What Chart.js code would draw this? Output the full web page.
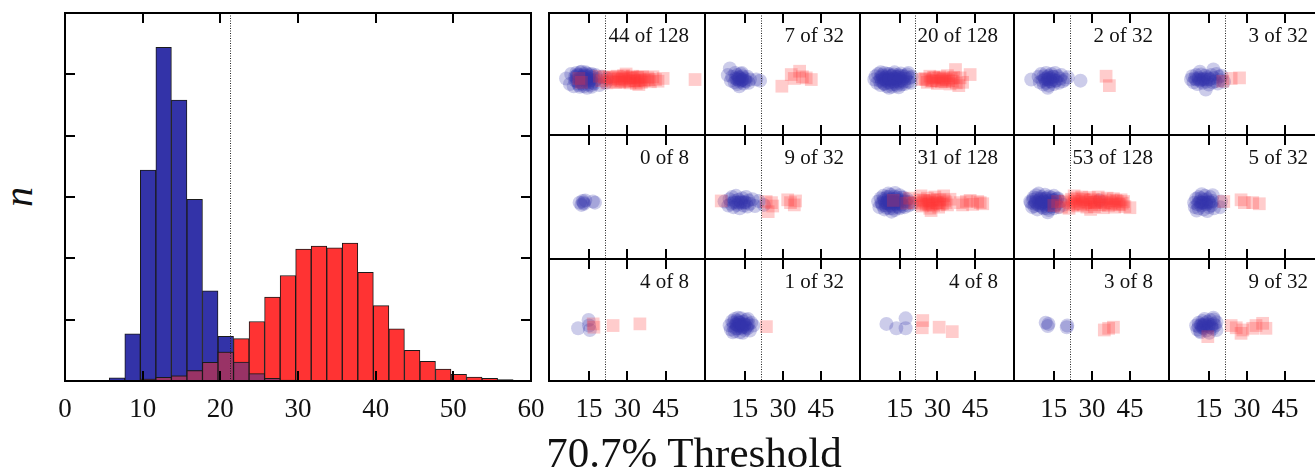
<!DOCTYPE html>
<html lang="en">
<head>
  <meta charset="UTF-8" />
  <title>70.7% Threshold</title>
  <script src="https://cdn.jsdelivr.net/npm/chart.js"></script>
  <style>
    html, body { margin: 0; padding: 0; overflow: hidden; background: #fff; }
    #figure {
      position: relative;
      width: 1315px;
      height: 471px;
      overflow: hidden;
      font-family: "Liberation Serif", "Times New Roman", serif;
      color: #111;
    }
    #figure canvas { position: absolute; }
    .count {
      position: absolute;
      font-size: 21px;
      line-height: 21px;
      white-space: nowrap;
      text-align: right;
    }
    .xlabel {
      position: absolute;
      left: 694px;
      top: 432px;
      font-size: 43px;
      line-height: 42px;
      white-space: nowrap;
      transform: translateX(-50%);
    }
    .ylabel {
      position: absolute;
      left: 19px;
      top: 197px;
      font-size: 40px;
      line-height: 40px;
      font-style: italic;
      transform: translate(-50%, -50%) rotate(-90deg);
    }
  </style>
</head>
<body>
  <div id="figure">
    <canvas id="hist" width="492" height="440" style="left:55px; top:3px; width:492px; height:440px;"></canvas>
    <div class="ylabel">n</div>
    <div class="xlabel">70.7% Threshold</div>
  </div>

  <script>
    // histogram (bin centres, counts)
    const threshold = 21.3;
    const binCenters = [6.7, 8.7, 10.7, 12.7, 14.7, 16.7, 18.7, 20.7, 22.7, 24.7, 26.7, 28.7, 30.7,
                        32.7, 34.7, 36.7, 38.7, 40.7, 42.7, 44.7, 46.7, 48.7, 50.7, 52.7, 54.7, 56.7];
    const blueCounts = [0.5, 7.7, 34.4, 54.4, 45.8, 29.6, 14.7, 7.3, 3.1, 1.2, 0.45, 0.15, 0.05,
                        0, 0, 0, 0, 0, 0, 0, 0, 0, 0, 0, 0, 0];
    const redCounts = [0, 0, 0.3, 0.6, 0.85, 1.7, 3.05, 4.7, 6.9, 9.7, 13.7, 17.2, 21.5,
                       22.0, 21.7, 22.5, 17.7, 12.3, 8.5, 5.0, 3.2, 1.95, 1.1, 0.65, 0.44, 0.22];
    const histTicks = [10, 20, 30, 40, 50];
    const panelTicks = [15, 30, 45];

    // small panels, row by row
    const panelLabels = ['44 of 128', '7 of 32', '20 of 128', '2 of 32', '3 of 32',
                         '0 of 8', '9 of 32', '31 of 128', '53 of 128', '5 of 32',
                         '4 of 8', '1 of 32', '4 of 8', '3 of 8', '9 of 32'];

    const bluePoints = [
      [[6,0.02],[7.5,-0.08],[8,0.1],[9,-0.12],[9.5,0.05],[10,0.12],[10.5,-0.03],[11,0.08],[11,-0.1],[11.5,0.02],
       [12,0.14],[12,-0.06],[12.5,0.04],[13,-0.12],[13,0.09],[13.5,0],[14,-0.04],[14,0.11],[14.5,-0.09],[15,0.06],
       [15.5,-0.02],[16,0.1],[16,-0.13],[16.5,0.03],[17,-0.07],[17.5,0.08],[18,0.01],[19,-0.1],[20,0.05],[21.5,-0.06],
       [22,0.02],[10,-0.02],[12.8,0.06],[14.2,-0.15],[11.6,0.13],
       [9.5,-0.02],[10,0.04],[10.5,0.09],[10.8,-0.07],[11.2,0],[11.8,-0.04],[12.2,0.05],[12.6,-0.09],[13.2,0.02],[13.7,0.07],
       [14,-0.01],[14.4,0.04],[14.8,-0.05],[15.2,0.09],[15.6,0],[16.2,-0.06],[16.6,0.06],[17.2,-0.02],[11.4,-0.13],[13.6,0.13],
       [15.8,-0.1],[12,0],[13,0],[14.6,0.01],[10.2,0.07]],
      [[9.1,0.2],[8.3,0.08],[9.5,-0.02],[10,0.05],[11,-0.05],[11.5,0.02],[12,0.08],[12,-0.08],[12.5,0],[13,0.04],
       [13,-0.04],[13.5,0.1],[14,-0.01],[14,0.06],[14.5,-0.07],[15,0.02],[15.5,-0.03],[16,0.05],[16.5,-0.06],[17,0],
       [12.8,-0.12],[13.8,0.12],[11.2,0.12],[19.5,0],[21,-0.02],
       [12,0],[13,0.02],[14,0],[15,-0.02],[13.5,-0.02],[12.5,0.04]],
      [[5,0],[5.5,0.06],[6,-0.06],[6.5,0.1],[7,-0.02],[7.5,0.04],[7.5,-0.1],[8,0.08],[8,-0.04],[8.5,0.02],
       [9,0.12],[9,-0.08],[9.5,0],[10,0.06],[10,-0.12],[10.5,0.03],[11,-0.05],[11,0.1],[11.5,-0.01],[12,0.07],
       [12,-0.09],[12.5,0.02],[13,0.13],[13,-0.04],[13.5,0.05],[14,-0.11],[14,0.01],[14.5,0.08],[15,-0.06],[15,0.03],
       [15.5,0.11],[16,-0.02],[16.5,0.06],[17,-0.08],[17.5,0.02],[18,0.09],[18.5,-0.04],[19,0.03],[19.5,-0.06],[19.8,0.05],
       [18.5,0.12],[7.5,0.13],[10.8,-0.15],[14.6,-0.14],
       [7.8,0],[8.4,0.06],[8.8,-0.07],[9.3,0.03],[9.7,-0.02],[10.3,0.1],[10.6,-0.06],[11.3,0],[11.7,0.06],[12.3,-0.04],
       [12.7,0.09],[13.3,-0.08],[13.7,0],[14.3,0.05],[14.7,-0.03],[15.3,0.07],[15.7,-0.09],[16.3,0.02],[16.7,-0.04],[17.3,0.06],
       [9,0],[11,0],[13,0.02],[15,-0.01],[12,-0.13]],
      [[6.1,0],[9,0.05],[9.5,-0.05],[10,0.1],[10.5,-0.02],[11,0.06],[11,-0.09],[11.5,0.02],[12,0.12],[12,-0.06],
       [12.5,0],[13,0.07],[13,-0.11],[13.5,0.03],[14,-0.04],[14,0.1],[14.5,0],[15,-0.08],[15,0.05],[15.5,0.12],
       [16,-0.02],[16.5,0.06],[17,-0.06],[17.5,0.02],[18,0.08],[18.5,-0.03],[19.5,0],[20.5,0.04],[12.6,-0.15],[25.5,-0.02],
       [11.5,0],[12.5,0.04],[13.5,-0.03],[14.5,0.05],[15.5,-0.02],[13,0]],
      [[8,0],[8.5,0.06],[9,-0.05],[9.5,0.02],[10,0.08],[10.5,-0.08],[11,0.03],[11.5,-0.02],[12,0.09],[12.5,-0.06],
       [13,0.02],[13.5,0.07],[14,-0.04],[14.5,0.04],[15,-0.09],[15.5,0.01],[16,0.08],[16.5,-0.05],[16.8,0.18],[17,0.03],
       [17.5,-0.03],[18,0.1],[18.5,-0.07],[19,0.05],[19.5,-0.01],[20,0.07],[21,-0.04],[13.8,-0.18],[11.5,0.14],
       [10,0],[11,0],[12,0],[13,0],[14,0],[15,0]],

      [[11.3,0],[12,-0.04],[12.5,0.03],[13,-0.02],[13.5,0.04],[12.8,0],[16.5,0.02],[17.3,0]],
      [[7,0.02],[8.5,-0.05],[9,0.06],[9.5,-0.02],[10,0.1],[10.5,-0.08],[11,0.03],[11.5,0.12],[12,-0.04],[12.5,0.05],
       [13,-0.1],[13.5,0.02],[14,0.08],[14.5,-0.05],[15,0.01],[15.5,0.1],[16,-0.07],[16.5,0.04],[17,-0.02],[18,0.06],
       [19,-0.06],[20.5,0.03],[22.5,-0.04],
       [10.5,0],[11.5,0],[12.5,0],[13.5,0],[14.5,0],[15.5,0]],
      [[6.5,0.02],[7,-0.08],[7.5,0.08],[8,-0.02],[8.5,0.12],[9,-0.12],[9,0.04],[9.5,-0.05],[10,0.1],[10,-0.01],
       [10.5,0.06],[11,-0.1],[11,0.02],[11.5,0.14],[12,-0.06],[12,0.07],[12.5,-0.02],[13,0.11],[13,-0.13],[13.5,0.03],
       [14,-0.07],[14,0.09],[14.5,0],[15,0.13],[15,-0.1],[15.5,0.05],[16,-0.03],[16.5,0.09],[17,-0.08],[17.5,0.02],
       [18,0.06],[18.5,-0.05],[19,0.01],[20,-0.02],[11.8,-0.16],[13.2,0.17],[10.5,0.16],
       [7.8,0],[8.3,-0.05],[8.8,0.07],[9.3,0],[9.8,-0.09],[10.3,0.03],[10.8,0.1],[11.3,-0.04],[11.8,0.05],[12.3,-0.1],
       [12.8,0.01],[13.3,0.07],[13.8,-0.03],[14.3,0.04],[14.8,-0.08],[15.3,0],[15.8,0.09],[16.3,-0.06],[16.8,0.02],[12,0],
       [13,0],[14,0],[10,0],[11,0],[15,0.03]],
      [[5.7,0.02],[6.5,-0.08],[7,0.09],[7.5,-0.02],[8,0.13],[8.5,-0.12],[9,0.04],[9.5,-0.05],[10,0.1],[10,-0.01],
       [10.5,0.06],[11,-0.1],[11,0.02],[11.5,0.14],[12,-0.06],[12,0.07],[12.5,-0.02],[13,0.11],[13,-0.13],[13.5,0.03],
       [14,-0.07],[14,0.09],[14.5,0],[15,0.12],[15,-0.1],[15.5,0.05],[16,-0.03],[16.5,0.08],[17,-0.08],[17.5,0.02],
       [18.7,-0.04],[33,0.04],[9,0.16],[12.6,-0.17],
       [6,0],[6.8,0.05],[7.3,-0.06],[7.8,0.02],[8.3,0.08],[8.8,-0.04],[9.3,0],[9.8,0.07],[10.3,-0.08],[10.8,0.02],
       [11.3,-0.03],[11.8,0.08],[12.3,-0.1],[12.8,0.03],[13.3,-0.05],[13.8,0.06],[14.3,-0.01],[14.8,0.04],[15.3,-0.06],[15.8,0.02],
       [16.3,0.07],[10,0],[12,0],[14,0],[8,0]],
      [[9.2,0],[9.5,-0.08],[10,0.07],[10.5,-0.03],[11,0.1],[11,-0.1],[11.5,0.02],[12,-0.05],[12,0.08],[12.5,0],
       [13,-0.12],[13,0.05],[13.5,0.12],[14,-0.03],[14.5,0.06],[15,-0.08],[15,0.02],[15.5,0.1],[16,-0.05],[16.5,0.03],
       [17,-0.1],[19.8,0.02],[19.5,-0.08],[12.2,0.15],[14.4,-0.15],[10.2,-0.14],[16.5,0.13],
       [11,0],[12,0],[13,0],[14,0],[15,0],[16,0]],

      [[10.7,-0.05],[14.8,0.1],[15.3,-0.08],[15,0]],
      [[9,0],[9.5,-0.07],[10,0.08],[10.5,-0.02],[11,0.12],[11,-0.1],[11.5,0.03],[12,-0.05],[12,0.09],[12.5,0],
       [13,-0.12],[13,0.05],[13.5,0.13],[14,-0.03],[14.5,0.07],[15,-0.08],[15,0.02],[15.5,0.1],[16,-0.05],[16.5,0.03],
       [17,-0.09],[17.5,0.05],[18.3,0],[12.3,0.14],[14.2,-0.13],[10.3,-0.12],[16.2,0.12],[11.8,0.02],[13.8,-0.01],[12.8,0.05],
       [14.8,0.02],
       [10.5,0.05],[11.5,-0.06],[12.5,0.07],[13.5,-0.05],[14.5,-0.02],[15.5,-0.03],[12,0],[13,0],[14,0.02],[16,0]],
      [[9.8,0.03],[13.7,-0.05],[17.4,0.13],[17.4,-0.05]],
      [[11.8,0.05],[12.6,-0.01],[12.9,0.03],[20.1,-0.03],[20.3,0]],
      [[10,0],[10.5,-0.07],[11,0.05],[11.5,-0.1],[12,0.02],[12.5,0.08],[13,-0.05],[13.5,0.04],[14,-0.09],[14.5,0.07],
       [15,-0.02],[15.5,0.1],[16,0.01],[16.5,-0.06],[17,0.11],[17.5,0],[18,-0.08],[18,0.06],[11.8,-0.12],[13.3,0.12],
       [15.2,-0.13],[16.8,0.14],[12.8,0],
       [11,-0.02],[12,0],[13,0.01],[14,0],[15,0.02],[16,-0.03],[17,0.03],[12.5,-0.03]]
    ];

    const redPoints = [
      [[11,0.02],[12,-0.05],[19,0.06],[20,-0.02],[21,0.04],[22,-0.06],[23,0.05],[24,-0.03],[25,0.02],[26,0.06],
       [27,-0.05],[28,0.01],[28.5,0.07],[29,-0.04],[29.5,0.1],[30,0.03],[31,-0.06],[31.5,0.02],[32,0.06],[33,-0.02],
       [33.5,-0.07],[34,0.04],[34.5,-0.09],[35,0],[35.5,-0.05],[36,0.05],[37,-0.02],[38,0.03],[39,-0.04],[40,0.05],
       [41,0],[42,-0.03],[44,0.02],[56.5,0],
       [23.5,0],[24.5,0.04],[25.5,-0.05],[26.5,0.01],[27.5,-0.02],[28,0.05],[29,0],[30.5,-0.03],[31,0.04],[32.5,-0.02],
       [33,0.03],[34,-0.03],[35,0.05],[36.5,-0.01],[38.5,0]],
      [[29.6,-0.12],[33.3,0.09],[34.5,0.02],[36.6,0.15],[37.7,0.05],[39.2,0.03],[41.2,0]],
      [[24,0],[25,0.02],[26,-0.05],[27,0.06],[28,-0.02],[29,0.03],[30,-0.07],[31,0.05],[32,0],[33,-0.04],
       [34,0.07],[35,-0.08],[35.5,0.02],[36,-0.03],[37.2,0.18],[37.5,-0.06],[38.5,-0.11],[39,0.03],[40,-0.05],[43,0.09],
       [25.5,0],[27.5,-0.03],[28.5,0.04],[29.5,-0.02],[30.5,0.02],[31.5,-0.04],[32.5,0.03],[33.5,0],[34.5,-0.02],[36.5,0.04]],
      [[35.6,0.06],[36.9,-0.11]],
      [[20.5,-0.03],[23.8,0.02],[27.1,0.03]],

      [],
      [[5.7,0.03],[23.4,0.02],[24.2,-0.16],[25.5,0],[26,-0.06],[31.9,0.05],[33,0],[34.5,-0.04],[35,0.03]],
      [[12.5,0.04],[17.8,-0.01],[19,0.08],[21,0],[23,0.05],[24,-0.06],[25,0.02],[26,0.08],[26.5,-0.03],[27,-0.1],
       [28,0.04],[28.5,-0.05],[29,0.1],[30,0],[30.5,-0.08],[31,0.05],[32,-0.02],[32.5,0.12],[33,0.03],[34,-0.04],
       [35,0.06],[39,0],[40,-0.04],[41.5,0.02],[43,0.04],[44,-0.03],[46,0.02],[47,0],[48,-0.02],[23.5,0.12],
       [27.5,-0.14],
       [23.5,-0.02],[24.5,0.04],[25.5,-0.04],[26,0],[27,0.03],[28,-0.02],[29.5,0],[30,0.06],[31,-0.03],[33.5,0]],
      [[15,-0.05],[16.5,0.02],[18,-0.08],[19.5,0.03],[21,-0.1],[22,0.06],[23,-0.02],[24,0.08],[24.5,-0.06],[25,0.02],
       [26,0.1],[26.5,-0.04],[27,0.05],[28,-0.08],[28.5,0.01],[29,0.09],[30,-0.03],[30.5,0.06],[31,-0.07],[32,0.02],
       [32.5,0.1],[33,-0.04],[34,0.05],[34.5,-0.09],[35,0],[36,0.08],[36.5,-0.05],[37,0.03],[38,-0.02],[38.5,0.07],
       [39,-0.08],[40,0.02],[41,-0.04],[41.5,0.05],[42,-0.01],[43,-0.07],[45,-0.09],[23,0.12],[29.5,-0.12],
       [21.5,0],[22.5,-0.04],[23.5,0.03],[25.5,-0.02],[27.5,0],[29.5,0.04],[31.5,0],[33.5,0.02],[35.5,-0.03],[37.5,0],
       [39.5,0.04],[40.5,-0.03],[42.5,0.02],[26.5,0.06],[31,0]],
      [[20.9,0.02],[27.7,0.05],[29,0],[32.3,0],[34.9,-0.02]],

      [[16.6,0.03],[16.9,-0.03],[24.4,0],[34.9,0.03]],
      [[23.5,-0.02]],
      [[24.2,0.09],[24,-0.04],[30.7,-0.03],[35.9,-0.11]],
      [[34.9,-0.08],[36.6,-0.05],[38.5,-0.03]],
      [[14.6,-0.2],[23.8,0],[25.8,-0.04],[27.7,-0.14],[28.4,-0.08],[32.3,-0.05],[33.6,0],[36.2,0.04],[37.5,-0.05]]
    ];

    // layout of the panel grid (pixels)
    const colLefts = [549, 705, 860, 1014, 1169, 1324];
    const rowTops = [13, 135, 259, 381];
    const axisHeight = 62;
    const tickLen = 10;
    const serif = '"Liberation Serif", "Times New Roman", serif';
    const tickFont = { size: 27, lineHeight: 2 };

    Chart.defaults.font.family = serif;
    Chart.defaults.color = '#111';

    const frame = {
      id: 'frame',
      afterDatasetsDraw(chart, args, opts) {
        const { ctx, chartArea: a } = chart;
        const xs = chart.scales.x;
        const ys = chart.scales.y;
        ctx.save();
        // dotted threshold
        const tx = Math.round(xs.getPixelForValue(threshold)) + 0.5;
        ctx.strokeStyle = '#222';
        ctx.lineWidth = 1;
        ctx.setLineDash([1, 1.5]);
        ctx.beginPath();
        ctx.moveTo(tx, a.top);
        ctx.lineTo(tx, a.bottom);
        ctx.stroke();
        ctx.setLineDash([]);
        // inward ticks + box
        ctx.strokeStyle = '#000';
        ctx.lineWidth = 2;
        ctx.beginPath();
        (opts.xTicks || []).forEach(v => {
          const x = Math.round(xs.getPixelForValue(v));
          ctx.moveTo(x, a.top); ctx.lineTo(x, a.top + tickLen);
          ctx.moveTo(x, a.bottom); ctx.lineTo(x, a.bottom - tickLen);
        });
        (opts.yTicks || []).forEach(v => {
          const y = Math.round(ys.getPixelForValue(v));
          ctx.moveTo(a.left, y); ctx.lineTo(a.left + tickLen, y);
          ctx.moveTo(a.right, y); ctx.lineTo(a.right - tickLen, y);
        });
        ctx.stroke();
        ctx.strokeRect(a.left, a.top, a.right - a.left, a.bottom - a.top);
        ctx.restore();
      }
    };

    // left histogram
    new Chart(document.getElementById('hist'), {
      type: 'bar',
      data: {
        datasets: [
          {
            data: binCenters.map((x, i) => ({ x, y: Math.min(blueCounts[i], redCounts[i]) })),
            backgroundColor: '#993366', order: 0
          },
          { data: binCenters.map((x, i) => ({ x, y: redCounts[i] })), backgroundColor: '#ff3333', order: 1 },
          { data: binCenters.map((x, i) => ({ x, y: blueCounts[i] })), backgroundColor: '#3333a8', order: 2 }
        ].map(d => Object.assign(d, {
          grouped: false, borderColor: '#1a1a1a', borderWidth: 1,
          categoryPercentage: 1, barPercentage: 1
        }))
      },
      options: {
        responsive: false,
        maintainAspectRatio: false,
        animation: false,
        events: [],
        layout: { autoPadding: false, padding: { left: 10, top: 10, right: 16, bottom: 0 } },
        plugins: {
          legend: { display: false },
          tooltip: { enabled: false },
          frame: { xTicks: histTicks, yTicks: histTicks }
        },
        scales: {
          x: {
            type: 'linear', min: 0, max: 60, offset: false,
            grid: { display: false, drawTicks: false, offset: false },
            border: { display: false },
            ticks: { stepSize: 10, maxRotation: 0, padding: 2, font: tickFont },
            afterFit: s => { s.height = axisHeight; }
          },
          y: { min: 0, max: 60, display: false }
        }
      },
      plugins: [frame]
    });

    // grid of small scatter panels
    const fig = document.getElementById('figure');
    panelLabels.forEach((label, i) => {
      const row = Math.floor(i / 5);
      const col = i % 5;
      const left = colLefts[col];
      const top = rowTops[row];
      const w = colLefts[col + 1] - left;
      const h = rowTops[row + 1] - top;
      const bottomRow = row === 2;

      const cv = document.createElement('canvas');
      const cw = w + 4;
      const ch = bottomRow ? h + 2 + axisHeight : h + 4;
      cv.width = cw;
      cv.height = ch;
      cv.style.width = cw + 'px';
      cv.style.height = ch + 'px';
      cv.style.left = (left - 2) + 'px';
      cv.style.top = (top - 2) + 'px';
      fig.appendChild(cv);

      const tag = document.createElement('div');
      tag.className = 'count';
      tag.textContent = label;
      tag.style.right = (1315 - (left + w - 16)) + 'px';
      tag.style.top = (top + 12) + 'px';
      fig.appendChild(tag);

      new Chart(cv, {
        type: 'scatter',
        data: {
          datasets: [
            {
              data: redPoints[i].map(([x, y]) => ({ x, y })),
              pointStyle: 'rect', pointRadius: 9, borderWidth: 0,
              backgroundColor: 'rgba(255, 51, 51, 0.25)', order: 0
            },
            {
              data: bluePoints[i].map(([x, y]) => ({ x, y })),
              pointStyle: 'circle', pointRadius: 7, borderWidth: 0,
              backgroundColor: 'rgba(51, 51, 170, 0.25)', order: 1
            }
          ]
        },
        options: {
          responsive: false,
          maintainAspectRatio: false,
          animation: false,
          events: [],
          layout: { autoPadding: false, padding: { left: 2, top: 2, right: 2, bottom: bottomRow ? 0 : 2 } },
          plugins: {
            legend: { display: false },
            tooltip: { enabled: false },
            frame: { xTicks: panelTicks }
          },
          scales: {
            x: {
              type: 'linear', min: -0.7, max: 60.4,
              display: bottomRow,
              grid: { display: false, drawTicks: false },
              border: { display: false },
              afterBuildTicks: s => { s.ticks = panelTicks.map(v => ({ value: v })); },
              ticks: { maxRotation: 0, padding: 2, font: tickFont },
              afterFit: s => { s.height = bottomRow ? axisHeight : 0; }
            },
            y: { min: -1, max: 1.2, display: false }
          }
        },
        plugins: [frame]
      });
    });
  </script>
</body>
</html>
